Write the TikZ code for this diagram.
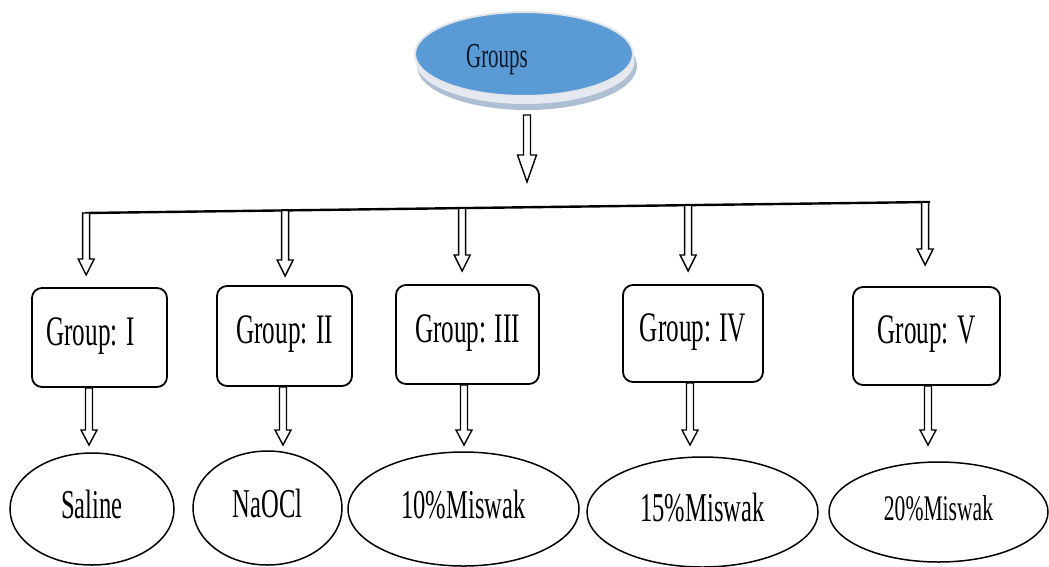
\documentclass[tikz,border=0pt]{standalone}
\usepackage{fontspec}
\setmainfont{Liberation Serif}[FakeStretch=0.6]
\usetikzlibrary{shapes.geometric,calc}
\definecolor{groupblue}{HTML}{5B9BD5}
\definecolor{shadowA}{HTML}{AEBFD3}
\definecolor{shadowB}{HTML}{E6EAF0}
\definecolor{halo}{HTML}{E2E5EA}
\definecolor{navytext}{HTML}{0E1A2B}
\tikzset{
  groupbox/.style={draw=black, line width=1.8pt, rounded corners=10pt, inner sep=0pt,
    font=\fontsize{42}{44}\selectfont, text height=15pt, text depth=0pt},
  treat/.style={draw=black, line width=1.5pt, ellipse, inner sep=0pt,
    font=\fontsize{41}{44}\selectfont, text height=18pt, text depth=0pt},
  arrowline/.style={draw=black, fill=white, line width=1.4pt, line join=miter},
  busline/.style={draw=black, line width=2.4pt}
}
% hollow block arrow: #1 head half width, #2 head length, #3 start, #4 tip
\newcommand\hollowarrow[4]{%
  \draw[arrowline] let \p1=(#3), \p2=(#4) in
    (\x1-3.5pt,\y1) -- (\x1+3.5pt,\y1) -- (\x1+3.5pt,\y2+#2) -- (\x1+#1,\y2+#2)
    -- (\x1,\y2) -- (\x1-#1,\y2+#2) -- (\x1-3.5pt,\y2+#2) -- cycle;}
\begin{document}
\begin{tikzpicture}[x=1pt,y=-1pt]
\useasboundingbox (0,0) rectangle (1049,566);
% 3D look of the top ellipse
\fill[shadowA] (527,66) ellipse [x radius=110, y radius=44];
\fill[shadowB] (525,61) ellipse [x radius=109.5, y radius=43];
\node[ellipse, fill=groupblue, draw=halo, line width=2pt, minimum width=218, minimum height=84,
  inner sep=0pt, text=navytext, font=\fontsize{35}{38}\selectfont, text height=26pt, text depth=0pt]
  (groups) at (524,54) {Groups\hspace*{54pt}};
% top arrow
\coordinate (topA) at (527,115);
\coordinate (topB) at (527,182);
\hollowarrow{9.5pt}{27pt}{topA}{topB}
% bus line
\coordinate (L1) at (85,213);
\coordinate (L5) at (930,202);
\draw[busline] (L1) -- (L5);
% group boxes
\node[groupbox, minimum width=135, minimum height=99] (g1) at (99.5,337.5) {Group: I\hspace*{18pt}};
\node[groupbox, minimum width=135, minimum height=100] (g2) at (284.5,336) {Group: II};
\node[groupbox, minimum width=143, minimum height=99] (g3) at (467.5,334.5) {Group: III};
\node[groupbox, minimum width=140, minimum height=97] (g4) at (693,333.5) {Group: IV};
\node[groupbox, minimum width=147, minimum height=98] (g5) at (926.5,336) {Group: V};
% treatments
\node[treat, minimum width=164, minimum height=112] (t1) at (92,509) {Saline};
\node[treat, minimum width=149, minimum height=114] (t2) at (267.5,508) {NaOCl};
\node[treat, minimum width=231, minimum height=114] (t3) at (463.5,509) {10\%Miswak};
\node[treat, minimum width=231, minimum height=110] (t4) at (702.5,512) {15\%Miswak};
\node[treat, minimum width=219, minimum height=100, font=\fontsize{36}{40}\selectfont, text height=16pt] (t5) at (938.5,512) {20\%Miswak};
% arrows from bus to boxes
\coordinate (a1) at (87,275);
\coordinate (a2) at (286,276);
\coordinate (a3) at (463,271);
\coordinate (a4) at (689,271);
\coordinate (a5) at (926,265);
\foreach \i in {1,...,5}{
  \hollowarrow{8pt}{16pt}{$(L1)!(a\i)!(L5)$}{a\i}
}
% arrows from boxes to treatments
\coordinate (b1) at (89,445);
\coordinate (b2) at (283,445);
\coordinate (b3) at (464,445);
\coordinate (b4) at (690,445);
\coordinate (b5) at (928,445);
\foreach \i in {1,...,5}{
  \hollowarrow{8pt}{15pt}{b\i |- g\i.south}{b\i}
}
\end{tikzpicture}
\end{document}
